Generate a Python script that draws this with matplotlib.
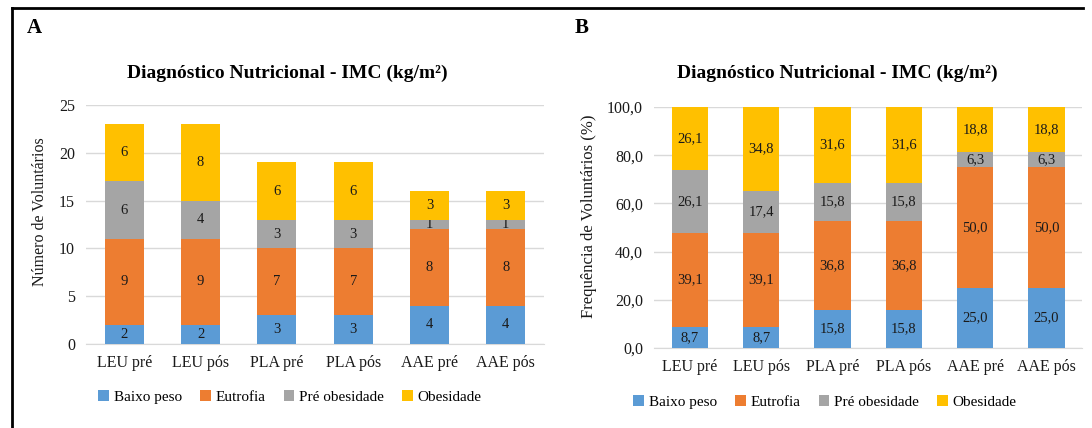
import matplotlib.pyplot as plt
from matplotlib.lines import Line2D
from matplotlib.ticker import FuncFormatter

plt.rcParams['font.family'] = ['Liberation Serif', 'DejaVu Serif']

# --- data ---
groups = ['LEU pré', 'LEU pós', 'PLA pré', 'PLA pós', 'AAE pré', 'AAE pós']
categories = ['Baixo peso', 'Eutrofia', 'Pré obesidade', 'Obesidade']
colors = ['#5B9BD5', '#ED7D31', '#A5A5A5', '#FFC000']

# Panel A: number of volunteers
baixo_n = [2, 2, 3, 3, 4, 4]
eutrofia_n = [9, 9, 7, 7, 8, 8]
pre_obes_n = [6, 4, 3, 3, 1, 1]
obesidade_n = [6, 8, 6, 6, 3, 3]

# Panel B: frequency (%)
baixo_pct = [8.7, 8.7, 15.8, 15.8, 25.0, 25.0]
eutrofia_pct = [39.1, 39.1, 36.8, 36.8, 50.0, 50.0]
pre_obes_pct = [26.1, 17.4, 15.8, 15.8, 6.3, 6.3]
obesidade_pct = [26.1, 34.8, 31.6, 31.6, 18.8, 18.8]

title = 'Diagnóstico Nutricional - IMC (kg/m²)'
grid_color = '#D9D9D9'
text_color = '#1a1a1a'


def comma(v):
    return f'{v:.1f}'.replace('.', ',')


def stacked(ax, series, fmt, xpad):
    x = range(len(groups))
    bottom = [0] * len(groups)
    for vals, col, name in zip(series, colors, categories):
        bars = ax.bar(x, vals, width=0.51, bottom=bottom, color=col, label=name, zorder=3)
        ax.bar_label(bars, labels=[fmt(v) for v in vals], label_type='center',
                     fontsize=10.5, color=text_color)
        bottom = [b + v for b, v in zip(bottom, vals)]
    ax.set_xlim(-0.5, len(groups) - 0.5)
    ax.set_xticks(list(x))
    ax.set_xticklabels(groups, fontsize=11.5, color=text_color)
    ax.tick_params(axis='both', length=0, colors=text_color)
    ax.tick_params(axis='x', pad=xpad)
    ax.tick_params(axis='y', labelsize=11.5, pad=8)
    ax.grid(axis='y', color=grid_color, linewidth=1, zorder=0)
    for s in ['top', 'right', 'left']:
        ax.spines[s].set_visible(False)
    ax.spines['bottom'].set_color(grid_color)


fig = plt.figure(figsize=(10.92, 4.28), dpi=100)

# --- Panel A ---
axA = fig.add_axes([0.0788, 0.1963, 0.4194, 0.5584])
stacked(axA, [baixo_n, eutrofia_n, pre_obes_n, obesidade_n], lambda v: f'{v:d}', 8)
axA.set_ylim(0, 25)
axA.set_yticks([0, 5, 10, 15, 20, 25])
fig.text(287 / 1092, 0.829, title, ha='center', va='center', fontsize=14, fontweight='bold')
fig.text(40 / 1092, 0.505, 'Número de Voluntários', rotation=90, ha='center', va='center',
         fontsize=11.5, color=text_color)
axA.legend(loc='center', bbox_to_anchor=(290 / 1092, 0.072), bbox_transform=fig.transFigure,
           ncol=4, frameon=False, fontsize=11, handlelength=0.7, handleheight=0.7,
           handletextpad=0.3, columnspacing=1.2)
fig.text(27 / 1092, 0.935, 'A', fontsize=15, fontweight='bold', va='center')

# --- Panel B ---
axB = fig.add_axes([0.599, 0.187, 0.392, 0.563])
stacked(axB, [baixo_pct, eutrofia_pct, pre_obes_pct, obesidade_pct], comma, 8)
axB.set_ylim(0, 100)
axB.set_yticks([0, 20, 40, 60, 80, 100])
axB.yaxis.set_major_formatter(FuncFormatter(lambda v, p: comma(v)))
fig.text(837 / 1092, 0.829, title, ha='center', va='center', fontsize=14, fontweight='bold')
fig.text(589 / 1092, 0.495, 'Frequência de Voluntários (%)', rotation=90, ha='center',
         va='center', fontsize=12, color=text_color)
axB.legend(loc='center', bbox_to_anchor=(825 / 1092, 0.06), bbox_transform=fig.transFigure,
           ncol=4, frameon=False, fontsize=11, handlelength=0.7, handleheight=0.7,
           handletextpad=0.3, columnspacing=1.2)
fig.text(575 / 1092, 0.935, 'B', fontsize=15, fontweight='bold', va='center')

# --- frame ---
fig.add_artist(Line2D([12 / 1092, 1083 / 1092], [0.981, 0.981], color='black', linewidth=2,
                      transform=fig.transFigure))
fig.add_artist(Line2D([12 / 1092, 12 / 1092], [0, 0.981], color='black', linewidth=2,
                      transform=fig.transFigure))

fig.savefig('out.png', dpi=100)
